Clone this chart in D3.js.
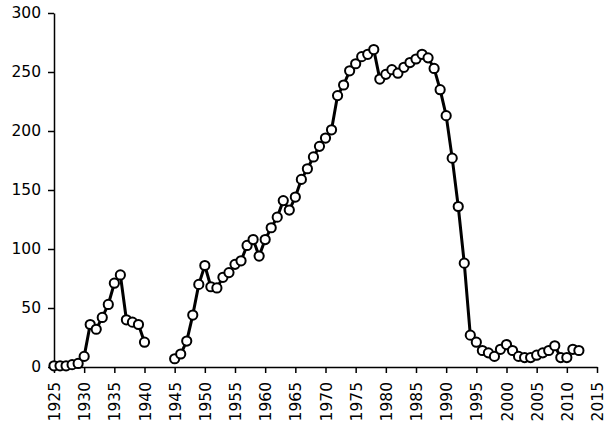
<!DOCTYPE html>
<html>
<head>
<meta charset="utf-8">
<script src="https://cdn.jsdelivr.net/npm/d3@7"></script>
<style>
  html, body { margin: 0; padding: 0; background: #fff; }
  svg { display: block; }
  .tick text { font-family: "DejaVu Sans", Verdana, sans-serif; font-size: 15.5px; fill: #000; }
</style>
</head>
<body>
<svg id="chart" width="608" height="429"></svg>
<script>
const years = d3.range(1925, 2013);
const values = [
  1, 1, 1, 2, 3, 9, 36, 32, 42, 53, 71, 78, 40, 38, 36, 21,   // 1925-1940
  null, null, null, null,                                      // 1941-1944
  7, 11, 22, 44, 70, 86, 68, 67, 76, 80, 87, 90, 103, 108, 94, // 1945-1959
  108, 118, 127, 141, 133, 144, 159, 168, 178, 187,            // 1960-1969
  194, 201, 230, 239, 251, 257, 263, 265, 269, 244,            // 1970-1979
  248, 252, 249, 254, 258, 261, 265, 262, 253, 235,            // 1980-1989
  213, 177, 136, 88, 27, 21, 14, 12, 9, 15,                    // 1990-1999
  19, 14, 9, 8, 8, 10, 12, 14, 18, 8,                          // 2000-2009
  8, 15, 14                                                    // 2010-2012
];
const xTicks = d3.range(1925, 2016, 5);
const yTicks = [0, 50, 100, 150, 200, 250, 300];

const data = years.map((yr, i) => ({ year: yr, value: values[i] }));

const svg = d3.select("#chart");
const mLeft = 54, mRight = 597, mTop = 13, mBottom = 367;

const x = d3.scaleLinear().domain([1925, 2015]).range([mLeft, mRight]);
const y = d3.scaleLinear().domain([0, 300]).range([mBottom, mTop]);

// y axis
const yAxis = svg.append("g")
  .attr("transform", `translate(${mLeft},0)`)
  .call(d3.axisLeft(y).tickValues(yTicks).tickSize(6).tickPadding(7).tickSizeOuter(0));
yAxis.select(".domain").attr("stroke", "#000").attr("stroke-width", 1.5);
yAxis.selectAll(".tick line").attr("stroke", "#000").attr("stroke-width", 1.5);

// x axis
const xAxis = svg.append("g")
  .attr("transform", `translate(0,${mBottom})`)
  .call(d3.axisBottom(x).tickValues(xTicks).tickFormat(d3.format("d")).tickSize(6).tickSizeOuter(0));
xAxis.select(".domain").attr("stroke", "#000").attr("stroke-width", 1.5);
xAxis.selectAll(".tick line").attr("stroke", "#000").attr("stroke-width", 1.5);
xAxis.selectAll(".tick text")
  .attr("transform", "rotate(-90)")
  .attr("text-anchor", "end")
  .attr("x", -15)
  .attr("y", 0)
  .attr("dy", "0.36em");

// line
const line = d3.line()
  .defined(d => d.value !== null)
  .x(d => x(d.year))
  .y(d => y(d.value));

svg.append("path")
  .datum(data)
  .attr("fill", "none")
  .attr("stroke", "#000")
  .attr("stroke-width", 3)
  .attr("stroke-linejoin", "round")
  .attr("d", line);

svg.append("g")
  .selectAll("circle")
  .data(data.filter(d => d.value !== null))
  .join("circle")
  .attr("cx", d => x(d.year))
  .attr("cy", d => y(d.value))
  .attr("r", 4.6)
  .attr("fill", "#fff")
  .attr("stroke", "#000")
  .attr("stroke-width", 2);
</script>
</body>
</html>
